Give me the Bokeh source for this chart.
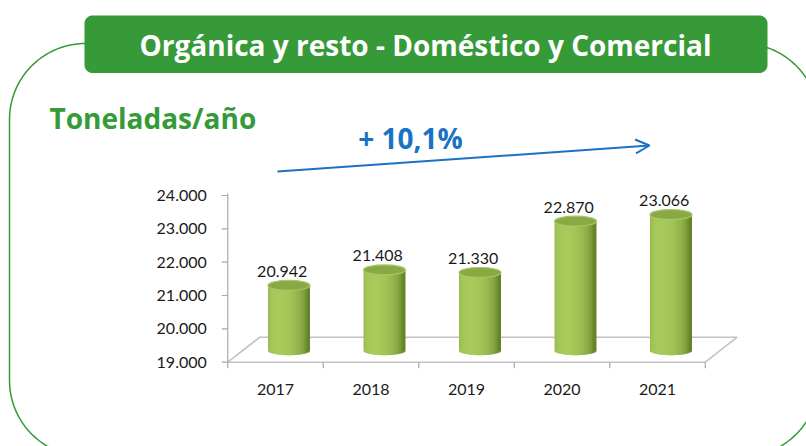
import numpy as np
from bokeh.plotting import figure
from bokeh.models import Range1d, ColumnDataSource, Arrow, OpenHead, Label
from bokeh.transform import dodge
from bokeh.core.properties import value
from bokeh.embed import file_html
from bokeh.resources import INLINE

# ---------------- data ----------------
years = ["2017", "2018", "2019", "2020", "2021"]
tons = [20942, 21408, 21330, 22870, 23066]
tons_labels = ["20.942", "21.408", "21.330", "22.870", "23.066"]
y_ticks = [19000, 20000, 21000, 22000, 23000, 24000]
y_tick_labels = ["19.000", "20.000", "21.000", "22.000", "23.000", "24.000"]
title_text = "Orgánica y resto - Doméstico y Comercial"
unit_text = "Toneladas/año"
growth_text = "+ 10,1%"

# ---------------- styles ----------------
GREEN = "#359a37"
BLUE = "#1b72c4"
NUM_FONT = value("Lato")
HEAD_FONT = "Open Sans"

# reference-pixel frame of the canvas
PX_L, PX_R, PX_T, PX_B = 0, 806, 0, 446
CAT0_PX, CAT_STEP = 275.0, 95.5          # first category centre, spacing (px)
BASE_PX, PX_PER_1000 = 361.7, 33.34      # y of axis minimum, px per 1000 t
BAR_LIFT = 12                             # 3-D depth lift of bars (px)
BAR_DX_PX = 13.5                          # 3-D depth shift of bars (px)
BAR_W_PX = 42
DEPTH_X_PX, DEPTH_Y_PX = 32, 25

n = len(years)
ymin = y_ticks[0]
upp = 1000.0 / PX_PER_1000               # value units per px
cat_lo = (PX_L - CAT0_PX) / CAT_STEP
cat_hi = (PX_R - CAT0_PX) / CAT_STEP
val_lo = ymin - (PX_B - BASE_PX) * upp
val_hi = ymin + (BASE_PX - PX_T) * upp

p = figure(width=PX_R - PX_L, height=PX_B - PX_T,
           x_range=Range1d(PX_L, PX_R), y_range=Range1d(PX_B, PX_T),
           output_backend="svg", toolbar_location=None,
           x_axis_type=None, y_axis_type=None, min_border=0,
           outline_line_color=None, background_fill_color="white",
           border_fill_color="white")
p.extra_x_ranges = {"cat": Range1d(cat_lo, cat_hi)}
p.extra_y_ranges = {"val": Range1d(val_lo, val_hi),
                    "bar": Range1d(val_lo - BAR_LIFT * upp, val_hi - BAR_LIFT * upp)}


def rrect(x0, y0, x1, y1, r, k=30):
    xs, ys = [], []
    corners = [(x1 - r, y0 + r, -90, 0), (x1 - r, y1 - r, 0, 90),
               (x0 + r, y1 - r, 90, 180), (x0 + r, y0 + r, 180, 270)]
    for cx, cy, a0, a1 in corners:
        t = np.radians(np.linspace(a0, a1, k))
        xs.extend(cx + r * np.cos(t))
        ys.extend(cy + r * np.sin(t))
    xs.append(xs[0]); ys.append(ys[0])
    return xs, ys


# outer rounded frame
fx, fy = rrect(9, 43, 818, 456, 76)
p.line(fx, fy, line_color=GREEN, line_width=1.5)

# title box
tx, ty = rrect(84, 15, 767, 72.5, 8)
p.patch(tx, ty, fill_color=GREEN, line_color=None)
p.add_layout(Label(x=425, y=44, text=title_text, text_align="center",
                   text_baseline="middle", text_font=HEAD_FONT,
                   text_font_style="bold", text_font_size="28px",
                   text_color="white"))
p.add_layout(Label(x=49, y=117, text=unit_text, text_align="left",
                   text_baseline="middle", text_font=HEAD_FONT,
                   text_font_style="bold", text_font_size="28px",
                   text_color=GREEN))

# growth arrow
p.add_layout(Arrow(x_start=277, y_start=171, x_end=649, y_end=145,
                   line_color=BLUE, line_width=2,
                   end=OpenHead(size=14, line_color=BLUE, line_width=2)))
p.add_layout(Label(x=410, y=137, text=growth_text, text_align="center",
                   text_baseline="middle", text_font=HEAD_FONT,
                   text_font_style="bold", text_font_size="28px",
                   text_color=BLUE))

# ---------------- chart ----------------
src = ColumnDataSource(dict(xi=list(range(n)), year=years, tons=tons,
                            lab=tons_labels, base=[ymin] * n))
tsrc = ColumnDataSource(dict(tick=y_ticks, lab=y_tick_labels))

ddx = DEPTH_X_PX / CAT_STEP
ddy = DEPTH_Y_PX * upp
left, right = -0.5, n - 0.5
# floor
p.line([left, right, right + ddx, left + ddx, left],
       [ymin, ymin, ymin + ddy, ymin + ddy, ymin],
       x_range_name="cat", y_range_name="val",
       line_color="#c3c3c3", line_width=1.6)
# category ticks
xt = [i - 0.5 for i in range(n + 1)]
p.segment(x0=xt, x1=xt, y0=[ymin] * (n + 1), y1=[ymin - 6 * upp] * (n + 1),
          x_range_name="cat", y_range_name="val",
          line_color="#a8a8a8", line_width=1.2)
# value axis
p.line([left, left], [y_ticks[0], y_ticks[-1] + 2 * upp],
       x_range_name="cat", y_range_name="val",
       line_color="#a8a8a8", line_width=1.2)
p.segment(x0=left - 6 / CAT_STEP, x1=left, y0="tick", y1="tick", source=tsrc,
          x_range_name="cat", y_range_name="val",
          line_color="#a8a8a8", line_width=1.2)
p.text(x=left, y="tick", text="lab", source=tsrc, x_offset=-21,
       x_range_name="cat", y_range_name="val",
       text_align="right", text_baseline="middle", text_font=NUM_FONT,
       text_font_size="16px", text_color="#1a1a1a")
p.text(x="xi", y="base", text="year", source=src, y_offset=27,
       x_range_name="cat", y_range_name="val",
       text_align="center", text_baseline="middle", text_font=NUM_FONT,
       text_font_size="16px", text_color="#1a1a1a")

# cylinders (shaded with vertical strips)
boff = BAR_DX_PX / CAT_STEP
bw = BAR_W_PX / CAT_STEP
NS = 24
ws = bw / NS
dark = np.array([0x5a, 0x78, 0x20])
light = np.array([0xa8, 0xcb, 0x5c])
semi = 5 * upp
for k in range(NS):
    u = -1 + (2 * k + 1) / NS
    lit = np.clip(np.cos(np.arcsin(u) + 0.45), 0, 1) ** 0.7
    t = 0.15 + 0.85 * lit
    c = dark + (light - dark) * t
    col = "#%02x%02x%02x" % tuple(int(v) for v in c)
    lo_edge = max(-bw / 2, u * bw / 2 - ws)
    hi_edge = min(bw / 2, u * bw / 2 + ws)
    p.vbar(x=dodge("xi", boff + (lo_edge + hi_edge) / 2), width=hi_edge - lo_edge,
           top="tons", bottom=ymin - semi * np.sqrt(max(0.0, 1 - u * u)),
           source=src, x_range_name="cat", y_range_name="bar",
           fill_color=col, line_color=None)
p.ellipse(x=dodge("xi", boff), y="tons", width=BAR_W_PX, height=10,
          width_units="screen", height_units="screen", source=src,
          x_range_name="cat", y_range_name="bar",
          fill_color="#88a944", line_color="#a6c866", line_width=1.2)

# value labels
p.text(x=dodge("xi", 0.07), y="tons", text="lab", source=src, y_offset=-26,
       x_range_name="cat", y_range_name="val",
       text_align="center", text_baseline="middle", text_font=NUM_FONT,
       text_font_size="16px", text_color="#1a1a1a")

open("out.html", "w").write(file_html(p, INLINE))
